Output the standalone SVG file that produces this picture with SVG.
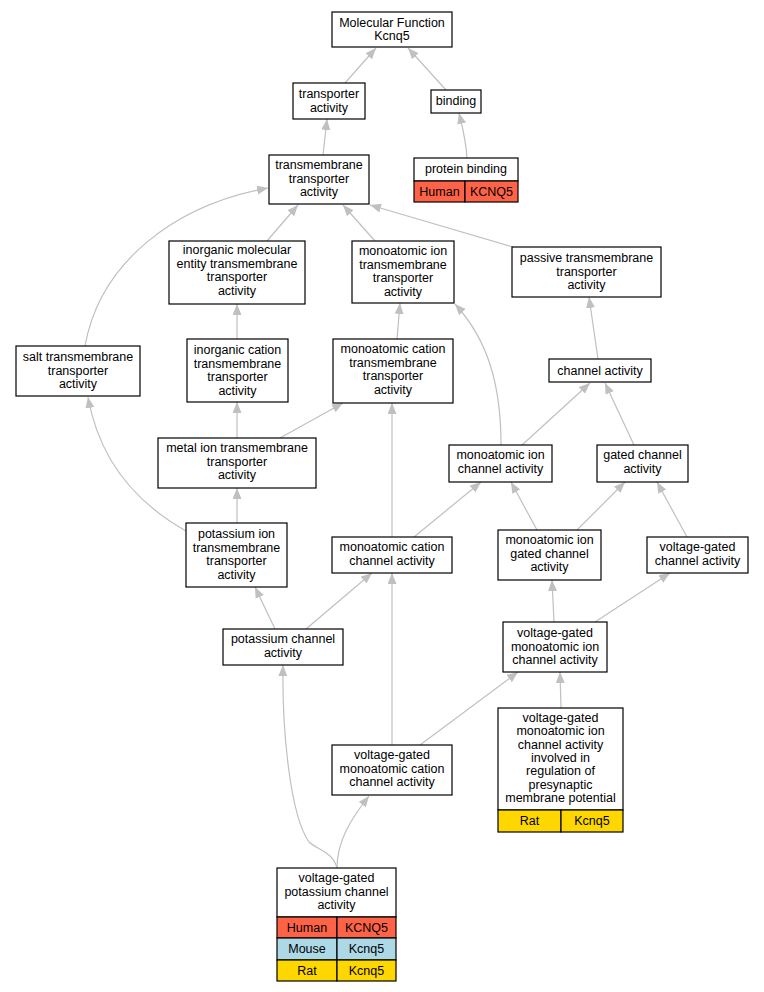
<svg xmlns="http://www.w3.org/2000/svg" width="764" height="992" viewBox="0 0 764 992">
<defs>
<style>
.n rect{fill:#fff;stroke:#000;stroke-width:1.2}
text{font-family:"Liberation Sans",Arial,sans-serif;font-size:12.5px;text-anchor:middle;fill:#000}
.e path{fill:none;stroke:#c0c0c0;stroke-width:1.2;marker-end:url(#ah)}
.hu{fill:#ff6347!important}
.mo{fill:#add8e6!important}
.ra{fill:#ffd700!important}
</style>
<marker id="ah" markerUnits="userSpaceOnUse" markerWidth="12" markerHeight="10" refX="11" refY="4.5" orient="auto">
<path d="M0,0 L11,4.5 L0,9 z" fill="#c0c0c0"/>
</marker>
</defs>
<rect width="764" height="992" fill="#fff"/>
<g class="e" id="edges">
<path d="M345,83 L376,48"/>
<path d="M446,90 L408,48"/>
<path d="M467,158 C466,140 462,125 459,113"/>
<path d="M323,155 L327,119"/>
<path d="M267,241 L298,205"/>
<path d="M375,241 L343,205"/>
<path d="M513,247 L370,205"/>
<path d="M85,346 C100,262 175,205 268,188"/>
<path d="M237,339 L237,304"/>
<path d="M237,438 L237,402"/>
<path d="M280,438 L343,403"/>
<path d="M397,339 L400,303"/>
<path d="M237,523 L237,488"/>
<path d="M186,531 C140,505 100,465 88,397"/>
<path d="M501,445 C501,385 488,340 455,304"/>
<path d="M522,445 L590,383"/>
<path d="M634,445 L605,383"/>
<path d="M598,359 L589,297"/>
<path d="M414,537 L481,482"/>
<path d="M392,537 L392,403"/>
<path d="M537,530 L511,482"/>
<path d="M577,530 L625,482"/>
<path d="M687,537 L657,482"/>
<path d="M275,629 L255,587"/>
<path d="M306,629 L372,573"/>
<path d="M392,745 L392,573"/>
<path d="M554,622 L552,580"/>
<path d="M595,622 L670,573"/>
<path d="M420,745 L518,672"/>
<path d="M561,708 L560,672"/>
<path d="M337,868 C337,842 350,820 369,796"/>
<path d="M337,868 C333,852 318,850 309,842 C290,815 282,730 283,665"/>
</g>
<g class="n" id="n_mf"><rect x="332" y="12" width="120" height="35"/><text x="392" y="26.5">Molecular Function</text><text x="392" y="40">Kcnq5</text></g>
<g class="n" id="n_transporter"><rect x="293" y="83" width="72" height="36"/><text x="329" y="98">transporter</text><text x="329" y="111.5">activity</text></g>
<g class="n" id="n_binding"><rect x="431" y="90" width="50" height="23"/><text x="456" y="105">binding</text></g>
<g class="n" id="n_protein_binding"><rect x="414" y="158" width="104" height="23"/><text x="466" y="173">protein binding</text><rect class="hu" x="414" y="181" width="51" height="21"/><rect class="hu" x="465" y="181" width="53" height="21"/><text x="439.5" y="195.5">Human</text><text x="491.5" y="195.5">KCNQ5</text></g>
<g class="n" id="n_tm_transporter"><rect x="269" y="155" width="100" height="49"/><text x="319" y="169">transmembrane</text><text x="319" y="182.5">transporter</text><text x="319" y="196">activity</text></g>
<g class="n" id="n_inorg_mol"><rect x="169" y="241" width="136" height="63"/><text x="237" y="254">inorganic molecular</text><text x="237" y="267.5">entity transmembrane</text><text x="237" y="281">transporter</text><text x="237" y="294.5">activity</text></g>
<g class="n" id="n_salt"><rect x="16" y="346" width="124" height="50"/><text x="78" y="361">salt transmembrane</text><text x="78" y="374.5">transporter</text><text x="78" y="388">activity</text></g>
<g class="n" id="n_inorg_cation"><rect x="187" y="339" width="101" height="63"/><text x="237.5" y="354">inorganic cation</text><text x="237.5" y="367.5">transmembrane</text><text x="237.5" y="381">transporter</text><text x="237.5" y="394.5">activity</text></g>
<g class="n" id="n_mono_ion_tm"><rect x="352" y="241" width="102" height="62"/><text x="403" y="255">monoatomic ion</text><text x="403" y="268.5">transmembrane</text><text x="403" y="282">transporter</text><text x="403" y="295.5">activity</text></g>
<g class="n" id="n_passive"><rect x="512" y="247" width="149" height="50"/><text x="586.5" y="262">passive transmembrane</text><text x="586.5" y="275.5">transporter</text><text x="586.5" y="289">activity</text></g>
<g class="n" id="n_mono_cation_tm"><rect x="333" y="339" width="120" height="64"/><text x="393" y="353">monoatomic cation</text><text x="393" y="366.5">transmembrane</text><text x="393" y="380">transporter</text><text x="393" y="393.5">activity</text></g>
<g class="n" id="n_channel"><rect x="549" y="359" width="102" height="23"/><text x="600" y="374.5">channel activity</text></g>
<g class="n" id="n_metal_ion"><rect x="158" y="438" width="158" height="50"/><text x="237" y="452">metal ion transmembrane</text><text x="237" y="465.5">transporter</text><text x="237" y="479">activity</text></g>
<g class="n" id="n_mono_ion_channel"><rect x="449" y="445" width="103" height="37"/><text x="500.5" y="459">monoatomic ion</text><text x="500.5" y="472.5">channel activity</text></g>
<g class="n" id="n_gated_channel"><rect x="597" y="445" width="91" height="37"/><text x="642.5" y="459">gated channel</text><text x="642.5" y="472.5">activity</text></g>
<g class="n" id="n_potassium_ion_tm"><rect x="186" y="523" width="101" height="64"/><text x="236.5" y="538">potassium ion</text><text x="236.5" y="551.5">transmembrane</text><text x="236.5" y="565">transporter</text><text x="236.5" y="578.5">activity</text></g>
<g class="n" id="n_mono_cation_channel"><rect x="332" y="537" width="120" height="36"/><text x="392" y="551">monoatomic cation</text><text x="392" y="564.5">channel activity</text></g>
<g class="n" id="n_mono_ion_gated"><rect x="498" y="530" width="103" height="50"/><text x="549.5" y="544">monoatomic ion</text><text x="549.5" y="557.5">gated channel</text><text x="549.5" y="571">activity</text></g>
<g class="n" id="n_vg_channel"><rect x="647" y="537" width="101" height="36"/><text x="697.5" y="551">voltage-gated</text><text x="697.5" y="564.5">channel activity</text></g>
<g class="n" id="n_potassium_channel"><rect x="223" y="629" width="120" height="36"/><text x="283" y="643">potassium channel</text><text x="283" y="656.5">activity</text></g>
<g class="n" id="n_vg_mono_ion"><rect x="503" y="622" width="104" height="50"/><text x="555" y="637">voltage-gated</text><text x="555" y="650.5">monoatomic ion</text><text x="555" y="664">channel activity</text></g>
<g class="n" id="n_vg_mono_cation"><rect x="332" y="745" width="120" height="50"/><text x="392" y="759">voltage-gated</text><text x="392" y="772.5">monoatomic cation</text><text x="392" y="786">channel activity</text></g>
<g class="n" id="n_vg_presyn"><rect x="498" y="708" width="125" height="102"/><text x="560.5" y="722">voltage-gated</text><text x="560.5" y="735.3">monoatomic ion</text><text x="560.5" y="748.6">channel activity</text><text x="560.5" y="761.9">involved in</text><text x="560.5" y="775.2">regulation of</text><text x="560.5" y="788.5">presynaptic</text><text x="560.5" y="801.8">membrane potential</text><rect class="ra" x="498" y="810" width="63" height="22"/><rect class="ra" x="561" y="810" width="62" height="22"/><text x="529.5" y="825.3">Rat</text><text x="592" y="825.3">Kcnq5</text></g>
<g class="n" id="n_vg_potassium"><rect x="277" y="868" width="119" height="49"/><text x="336.5" y="882">voltage-gated</text><text x="336.5" y="895.5">potassium channel</text><text x="336.5" y="909">activity</text><rect class="hu" x="277" y="917" width="60" height="21"/><rect class="hu" x="337" y="917" width="59" height="21"/><text x="307" y="931.8">Human</text><text x="366.5" y="931.8">KCNQ5</text><rect class="mo" x="277" y="938" width="60" height="22"/><rect class="mo" x="337" y="938" width="59" height="22"/><text x="307" y="953.3">Mouse</text><text x="366.5" y="953.3">Kcnq5</text><rect class="ra" x="277" y="960" width="60" height="21"/><rect class="ra" x="337" y="960" width="59" height="21"/><text x="307" y="974.8">Rat</text><text x="366.5" y="974.8">Kcnq5</text></g>
</svg>
